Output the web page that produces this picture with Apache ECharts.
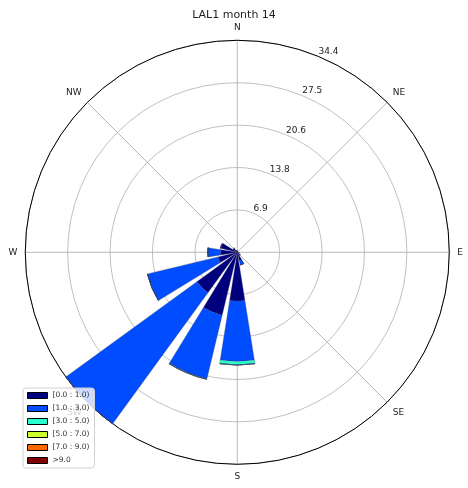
<!DOCTYPE html>
<html>
<head>
<meta charset="utf-8">
<script src="https://cdn.jsdelivr.net/npm/echarts@6/dist/echarts.min.js"></script>
<style>
  html, body { margin: 0; padding: 0; background: #fff; }
  #main { width: 468px; height: 488px; }
</style>
</head>
<body>
<div id="main"></div>
<script>
// 16 sectors, compass order starting at N going clockwise
var directions = ['N', 'NNE', 'NE', 'ENE', 'E', 'ESE', 'SE', 'SSE', 'S', 'SSW', 'SW', 'WSW', 'W', 'WNW', 'NW', 'NNW'];
var compassLabels = ['N', 'NE', 'E', 'SE', 'S', 'SW', 'W', 'NW'];
var binNames = ['[0.0 : 1.0)', '[1.0 : 3.0)', '[3.0 : 5.0)', '[5.0 : 7.0)', '[7.0 : 9.0)', '>9.0'];
var binColors = ['#00007f', '#004cff', '#29ffce', '#ceff29', '#ff6800', '#7f0000'];

// frequency (%) per speed bin
var bin0 = [0.2, 0.1, 0.1, 0.1, 0.2, 0.3, 0.5, 1.4, 7.9, 10.5, 8.1, 3.2, 2.7, 2.8, 0.8, 0.3];
var bin1 = [0, 0, 0, 0, 0, 0, 0.1, 0.7, 9.8, 10.6, 26.3, 11.8, 2.1, 0, 0, 0];
var bin2 = [0, 0, 0, 0, 0, 0, 0, 0, 0.6, 0.1, 0, 0, 0, 0, 0, 0];
var bin3 = [0, 0, 0, 0, 0, 0, 0, 0, 0, 0, 0, 0, 0, 0, 0, 0];
var bin4 = [0, 0, 0, 0, 0, 0, 0, 0, 0, 0, 0, 0, 0, 0, 0, 0];
var bin5 = [0, 0, 0, 0, 0, 0, 0, 0, 0, 0, 0, 0, 0, 0, 0, 0];
var bins = [bin0, bin1, bin2, bin3, bin4, bin5];

var rMax = 34.4;
var rStep = 6.88;

var myChart = echarts.init(document.getElementById('main'));

var center = ['50.7%', '51.7%'];
var radius = 212;
var font = 'DejaVu Sans';

var series = bins.map(function (d, i) {
    return {
        name: binNames[i],
        type: 'bar',
        coordinateSystem: 'polar',
        polarIndex: 0,
        stack: 'wind',
        data: d,
        barCategoryGap: '20%',
        itemStyle: {
            color: binColors[i],
            borderColor: 'rgba(60,60,90,0.5)',
            borderWidth: 0.6
        },
        z: 3
    };
});

var option = {
    animation: false,
    title: {
        text: 'LAL1 month 14',
        left: 'center',
        top: 5,
        textStyle: {fontFamily: font, fontSize: 11, fontWeight: 'normal', color: '#222'}
    },
    legend: {
        orient: 'vertical',
        left: 23,
        top: 388,
        padding: [3, 5, 3, 4],
        icon: 'rect',
        itemWidth: 20,
        itemHeight: 6,
        itemGap: 4,
        backgroundColor: 'rgba(255,255,255,0.8)',
        borderColor: '#d0d0d0',
        borderWidth: 1,
        borderRadius: 3,
        itemStyle: {borderColor: '#000', borderWidth: 1},
        textStyle: {fontFamily: font, fontSize: 7.5, color: '#333', lineHeight: 9},
        data: binNames
    },
    polar: [
        {center: center, radius: radius},
        {center: center, radius: radius},
        {center: center, radius: radius}
    ],
    angleAxis: [
        {
            polarIndex: 0,
            type: 'category',
            data: directions,
            startAngle: 90 + 11.25,
            clockwise: true,
            show: false
        },
        {
            polarIndex: 1,
            type: 'value',
            min: 0,
            max: 360,
            interval: 45,
            startAngle: 90,
            clockwise: true,
            axisLine: {lineStyle: {color: '#000', width: 1}},
            axisTick: {show: false},
            splitLine: {lineStyle: {color: '#b8b8b8', width: 1}},
            axisLabel: {
                margin: 8,
                fontFamily: font,
                fontSize: 9,
                color: '#222',
                formatter: function (v) {
                    return compassLabels[Math.round(v / 45) % 8];
                }
            },
            z: 1
        },
        {
            polarIndex: 2,
            type: 'value',
            min: 0,
            max: 360,
            startAngle: 90 - 22.5,
            clockwise: true,
            show: false
        }
    ],
    radiusAxis: [
        {polarIndex: 0, type: 'value', min: 0, max: rMax, show: false},
        {polarIndex: 1, type: 'value', min: 0, max: rMax, show: false},
        {
            polarIndex: 2,
            type: 'value',
            min: 0,
            max: rMax,
            interval: rStep,
            axisLine: {show: false},
            axisTick: {show: false},
            splitLine: {lineStyle: {color: '#c0c0c0', width: 1}},
            axisLabel: {
                showMinLabel: false,
                margin: 0,
                align: 'left',
                verticalAlign: 'bottom',
                fontFamily: font,
                fontSize: 9,
                color: '#222',
                formatter: function (v) { return v.toFixed(1); }
            },
            z: 1
        }
    ],
    series: series
};
myChart.setOption(option);
</script>
</body>
</html>
